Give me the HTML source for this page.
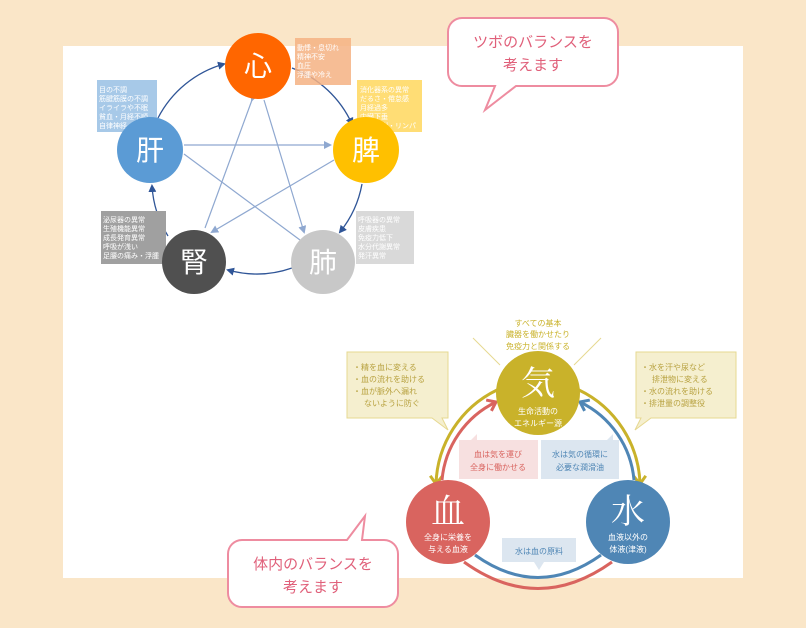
<!DOCTYPE html>
<html><head><meta charset="utf-8"><style>
body{margin:0;width:806px;height:628px;background:#fae6c8;overflow:hidden;font-family:"Liberation Sans","Noto Sans CJK JP",sans-serif;}
</style></head><body>
<svg width="806" height="628" xmlns="http://www.w3.org/2000/svg" style="position:absolute;left:0;top:0">
<defs>
<marker id="ab" markerWidth="8" markerHeight="8" refX="6" refY="4" orient="auto" markerUnits="userSpaceOnUse"><path d="M0,0 L8,4 L0,8 z" fill="#2f5597"/></marker>
<marker id="al" markerWidth="8" markerHeight="8" refX="6" refY="4" orient="auto" markerUnits="userSpaceOnUse"><path d="M0,0 L8,4 L0,8 z" fill="#8fa8d0"/></marker>
<marker id="ag" markerWidth="14" markerHeight="14" refX="9" refY="7" orient="auto" markerUnits="userSpaceOnUse"><path d="M1,1 L9,7 L1,13" fill="none" stroke="#c9b22a" stroke-width="3"/></marker>
<marker id="ar" markerWidth="14" markerHeight="14" refX="9" refY="7" orient="auto" markerUnits="userSpaceOnUse"><path d="M1,1 L9,7 L1,13" fill="none" stroke="#d9645f" stroke-width="3"/></marker>
<marker id="aw" markerWidth="14" markerHeight="14" refX="9" refY="7" orient="auto" markerUnits="userSpaceOnUse"><path d="M1,1 L9,7 L1,13" fill="none" stroke="#4f86b5" stroke-width="3"/></marker>
</defs>
<rect x="63" y="46" width="680" height="532" fill="#fff"/>
<!-- star lines -->
<g stroke="#8fa8d0" stroke-width="1.2" fill="none">
<line x1="252" y1="100" x2="205" y2="228" marker-start="url(#al)"/>
<line x1="264" y1="100" x2="304" y2="232" marker-end="url(#al)"/>
<line x1="184" y1="145" x2="330" y2="145" marker-end="url(#al)"/>
<line x1="184" y1="154" x2="300" y2="240"/>
<line x1="334" y1="160" x2="212" y2="232" marker-end="url(#al)"/>
</g>
<g stroke="#2f5597" stroke-width="1.3" fill="none">
<path d="M158 118 A107 107 0 0 1 224 64" marker-end="url(#ab)"/>
<path d="M292 68 A107 107 0 0 1 352 124" marker-end="url(#ab)"/>
<path d="M362 184 A107 107 0 0 1 340 232" marker-end="url(#ab)"/>
<path d="M292 268 A107 107 0 0 1 228 270" marker-end="url(#ab)"/>
<path d="M168 236 A107 107 0 0 1 152 186" marker-end="url(#ab)"/>
</g>
<!-- boxes -->
<rect x="295" y="38" width="56" height="47" fill="#f4b183" opacity=".85"/>
<rect x="97" y="80" width="60" height="52" fill="#9dc3e6" opacity=".9"/>
<rect x="357" y="80" width="65" height="52" fill="#ffd966" opacity=".9"/>
<rect x="101" y="211" width="65" height="53" fill="#a0a0a0"/>
<rect x="356" y="211" width="58" height="53" fill="#d9d9d9"/>
<g font-size="7" fill="#fff">
<text x="297" y="50">動悸・息切れ</text><text x="297" y="59">精神不安</text><text x="297" y="68">血圧</text><text x="297" y="77">浮腫や冷え</text>
<text x="99" y="92">目の不調</text><text x="99" y="101">筋腱筋膜の不調</text><text x="99" y="110">イライラや不眠</text><text x="99" y="119">貧血・月経不順</text><text x="99" y="128">自律神経</text>
<text x="360" y="92">消化器系の異常</text><text x="360" y="101">だるさ・倦怠感</text><text x="360" y="110">月経過多</text><text x="360" y="119">内臓下垂</text><text x="360" y="128">水分代謝・リンパ</text>
<text x="103" y="222">泌尿器の異常</text><text x="103" y="231">生殖機能異常</text><text x="103" y="240">成長発育異常</text><text x="103" y="249">呼吸が浅い</text><text x="103" y="258">足腰の痛み・浮腫</text>
<text x="358" y="222">呼吸器の異常</text><text x="358" y="231">皮膚疾患</text><text x="358" y="240">免疫力低下</text><text x="358" y="249">水分代謝異常</text><text x="358" y="258">発汗異常</text>
</g>
<g font-size="28" fill="#fff" text-anchor="middle">
<circle cx="258" cy="66" r="33" fill="#ff6600"/><text x="258" y="76">心</text>
<circle cx="366" cy="150" r="33" fill="#ffc000"/><text x="366" y="160">脾</text>
<circle cx="323" cy="262" r="32" fill="#c8c8c8"/><text x="323" y="272">肺</text>
<circle cx="194" cy="262" r="32" fill="#505050"/><text x="194" y="272">腎</text>
<circle cx="150" cy="150" r="33" fill="#5b9bd5"/><text x="150" y="160">肝</text>
</g>
<!-- bottom diagram -->
<g font-size="8" fill="#c9b22a" text-anchor="middle">
<text x="538" y="326">すべての基本</text><text x="538" y="337">臓器を働かせたり</text><text x="538" y="349">免疫力と関係する</text>
</g>
<line x1="473" y1="338" x2="500" y2="365" stroke="#e6d890"/><line x1="601" y1="338" x2="574" y2="365" stroke="#e6d890"/>
<g fill="none" stroke-width="3">
<path d="M497 390 A108 108 0 0 0 436 484" stroke="#c9b22a" marker-end="url(#ag)"/>
<path d="M579 390 A108 108 0 0 1 640 484" stroke="#c9b22a" marker-end="url(#ag)"/>
<path d="M442 480 A96 96 0 0 1 496 402" stroke="#d9645f" marker-end="url(#ar)"/>
<path d="M634 480 A96 96 0 0 0 580 402" stroke="#4f86b5" marker-end="url(#aw)"/>
<path d="M475 555 Q538 600 601 555" stroke="#4f86b5"/>
<path d="M464 562 Q538 615 612 562" stroke="#d9645f"/>
</g>
<path d="M347 352 h101 v66 h-6 l6 12 l-16 -12 h-85 z" fill="#f5efcf" stroke="#e6d890"/>
<path d="M636 352 h100 v66 h-85 l-16 12 l6 -12 h-5 z" fill="#f5efcf" stroke="#e6d890"/>
<g font-size="8" fill="#b8a240">
<text x="353" y="370">・精を血に変える</text><text x="353" y="382">・血の流れを助ける</text><text x="353" y="394">・血が脈外へ漏れ</text><text x="364" y="406">ないように防ぐ</text>
<text x="641" y="370">・水を汗や尿など</text><text x="652" y="382">排泄物に変える</text><text x="641" y="394">・水の流れを助ける</text><text x="641" y="406">・排泄量の調整役</text>
</g>
<path d="M459 440 h12 l6 -6 l0 6 h61 v39 h-79 z" fill="#f7e0e0"/>
<path d="M541 440 h66 l6 -6 l0 6 h6 v39 h-78 z" fill="#dce6f0"/>
<path d="M502 538 h74 v24 h-32 l-5 8 l-5 -8 h-32 z" fill="#dce6f0"/>
<g font-size="8" text-anchor="middle">
<text x="498" y="457" fill="#d9645f">血は気を運び</text><text x="498" y="470" fill="#d9645f">全身に働かせる</text>
<text x="580" y="457" fill="#4f86b5">水は気の循環に</text><text x="580" y="470" fill="#4f86b5">必要な潤滑油</text>
<text x="539" y="554" fill="#4f86b5">水は血の原料</text>
</g>
<circle cx="538" cy="393" r="42" fill="#c9b22a"/>
<circle cx="448" cy="522" r="42" fill="#d9645f"/>
<circle cx="628" cy="522" r="42" fill="#4f86b5"/>
<g fill="#fff" text-anchor="middle">
<text x="538" y="395" font-size="34" font-family="'Noto Serif CJK SC',serif">気</text>
<text x="538" y="414" font-size="8">生命活動の</text><text x="538" y="426" font-size="8">エネルギー源</text>
<text x="448" y="523" font-size="34" font-family="'Noto Serif CJK SC',serif">血</text>
<text x="448" y="540" font-size="8">全身に栄養を</text><text x="448" y="552" font-size="8">与える血液</text>
<text x="628" y="523" font-size="34" font-family="'Noto Serif CJK SC',serif">水</text>
<text x="628" y="540" font-size="8">血液以外の</text><text x="628" y="552" font-size="8">体液(津液)</text>
</g>
<!-- callouts -->
<path d="M462 18 h142 a14 14 0 0 1 14 14 v40 a14 14 0 0 1 -14 14 h-88 l-31 24 l10 -24 h-33 a14 14 0 0 1 -14 -14 v-40 a14 14 0 0 1 14 -14 z" fill="#fff" stroke="#ee8ca0" stroke-width="2"/>
<g font-size="15" fill="#e0607a" text-anchor="middle"><text x="533" y="47">ツボのバランスを</text><text x="533" y="70">考えます</text></g>
<path d="M242 540 h105 l18 -24 l-3 24 h22 a14 14 0 0 1 14 14 v39 a14 14 0 0 1 -14 14 h-142 a14 14 0 0 1 -14 -14 v-39 a14 14 0 0 1 14 -14 z" fill="#fff" stroke="#ee8ca0" stroke-width="2"/>
<g font-size="15" fill="#e0607a" text-anchor="middle"><text x="313" y="569">体内のバランスを</text><text x="313" y="592">考えます</text></g>
</svg>
</body></html>
